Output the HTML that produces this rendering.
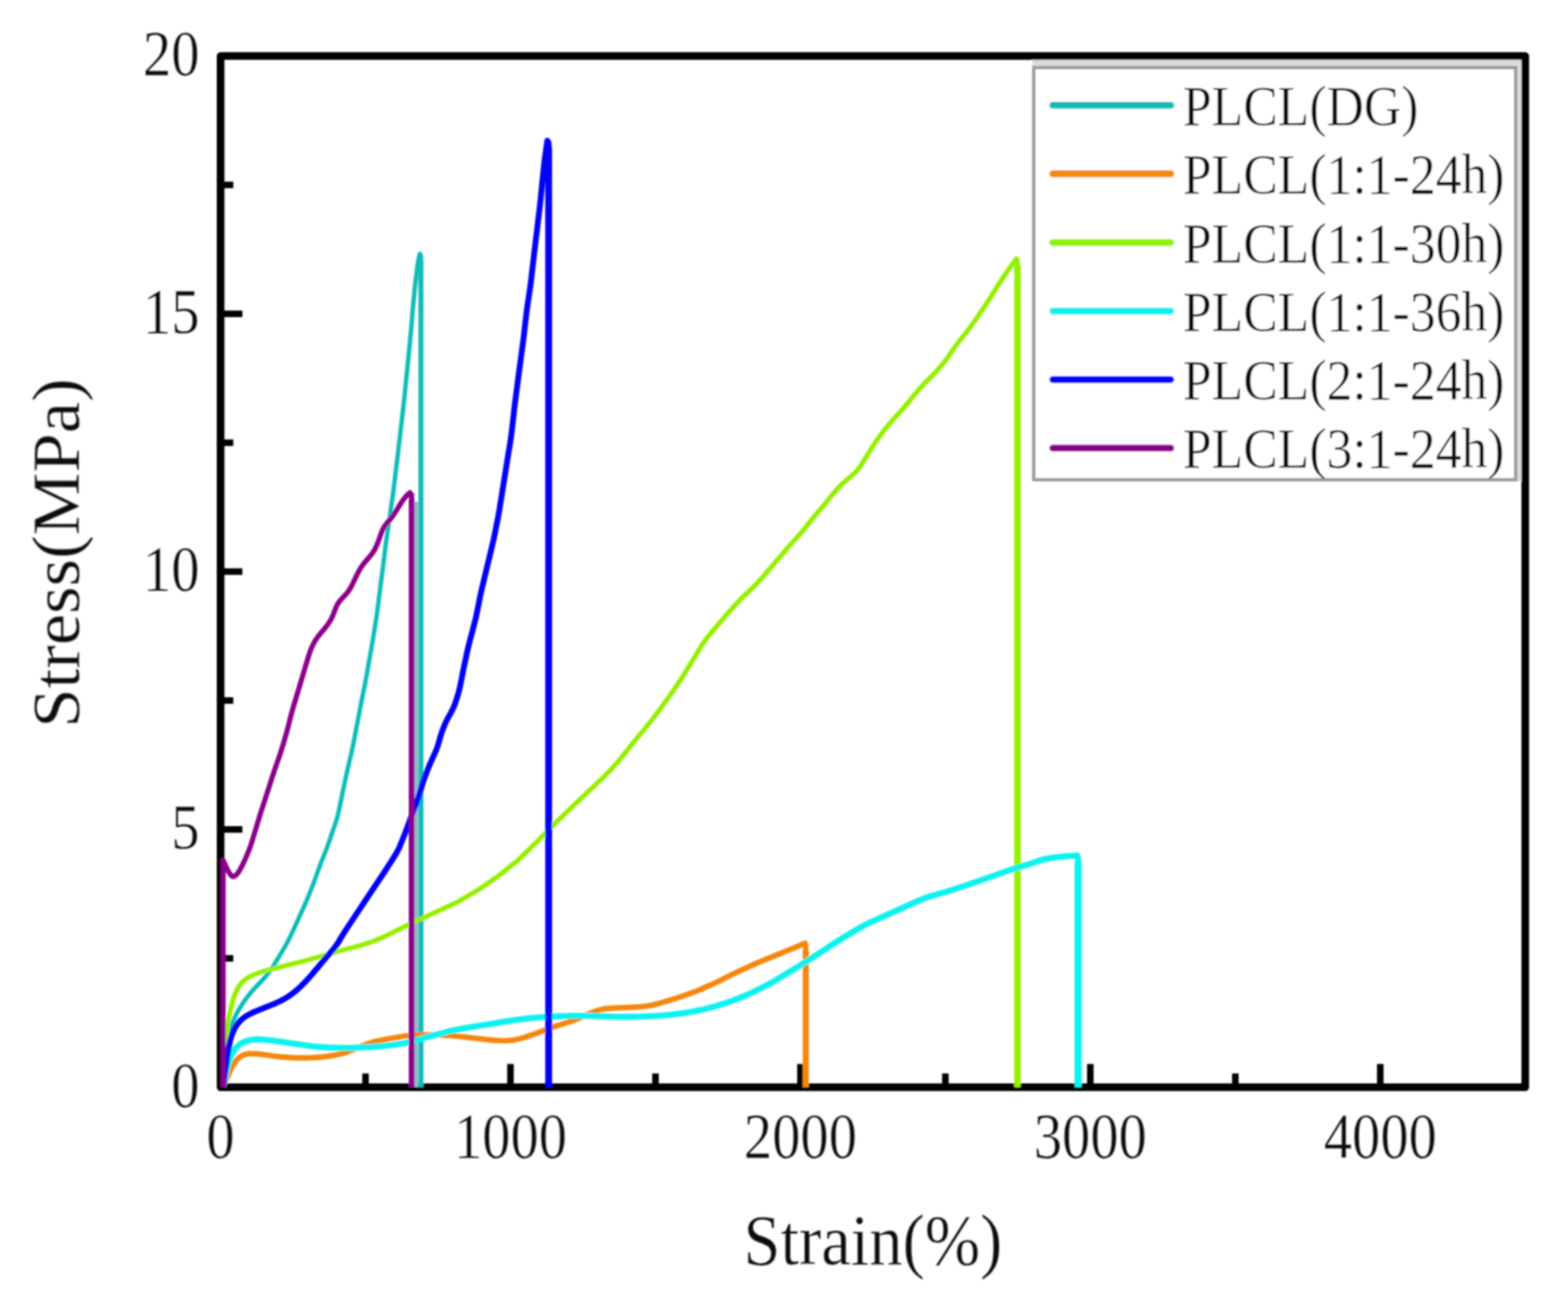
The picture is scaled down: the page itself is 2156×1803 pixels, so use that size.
<!DOCTYPE html>
<html lang="en"><head><meta charset="utf-8"><title>Stress-strain curves of PLCL</title>
<style>
html,body{margin:0;padding:0;background:#fff;}
body{width:2156px;height:1803px;overflow:hidden;}
svg{display:block;}
text{font-family:"Liberation Serif","Times New Roman",Times,serif;fill:#0a0a0a;stroke:#ffffff;stroke-width:0.3px;vector-effect:non-scaling-stroke;paint-order:fill stroke;}
.curve{fill:none;stroke-linejoin:round;stroke-linecap:butt;}
</style></head><body>
<svg xmlns="http://www.w3.org/2000/svg" width="2156" height="1803" viewBox="0 0 2156 1803">
<defs><filter id="soft" filterUnits="userSpaceOnUse" x="0" y="0" width="2156" height="1803"><feGaussianBlur stdDeviation="1.3"/></filter></defs>
<rect x="0" y="0" width="2156" height="1803" fill="#ffffff"/>
<g filter="url(#soft)">
<rect x="1419.5" y="77.0" width="677.6999999999998" height="584.8" fill="#dcdcdc"/>
<g stroke="#000" stroke-width="10.5" fill="none" stroke-linecap="butt">
<rect x="303.3" y="77.0" width="1793.8999999999999" height="1418.3" stroke-linejoin="round"/>
<line x1="502.6" y1="1495.3" x2="502.6" y2="1476.3" stroke-width="9"/>
<line x1="701.9" y1="1495.3" x2="701.9" y2="1463.3" stroke-width="9"/>
<line x1="901.3" y1="1495.3" x2="901.3" y2="1476.3" stroke-width="9"/>
<line x1="1100.6" y1="1495.3" x2="1100.6" y2="1463.3" stroke-width="9"/>
<line x1="1299.9" y1="1495.3" x2="1299.9" y2="1476.3" stroke-width="9"/>
<line x1="1499.2" y1="1495.3" x2="1499.2" y2="1463.3" stroke-width="9"/>
<line x1="1698.6" y1="1495.3" x2="1698.6" y2="1476.3" stroke-width="9"/>
<line x1="1897.9" y1="1495.3" x2="1897.9" y2="1463.3" stroke-width="9"/>
<line x1="303.3" y1="1318.0" x2="320.8" y2="1318.0" stroke-width="9"/>
<line x1="303.3" y1="1140.7" x2="333.3" y2="1140.7" stroke-width="9"/>
<line x1="303.3" y1="963.4" x2="320.8" y2="963.4" stroke-width="9"/>
<line x1="303.3" y1="786.1" x2="333.3" y2="786.1" stroke-width="9"/>
<line x1="303.3" y1="608.9" x2="320.8" y2="608.9" stroke-width="9"/>
<line x1="303.3" y1="431.6" x2="333.3" y2="431.6" stroke-width="9"/>
<line x1="303.3" y1="254.3" x2="320.8" y2="254.3" stroke-width="9"/>
</g>
<rect x="1421.5" y="93" width="662.5" height="566.8" fill="#ffffff" stroke="#9a9a9a" stroke-width="4.5"/>
<line x1="572.5" y1="690" x2="572.5" y2="1495.3" stroke="#8fb9cc" stroke-width="5.5"/>
<path class="curve" d="M307.0,1494.5 L307.4,1488.5 L307.8,1482.5 L308.2,1476.5 L308.6,1470.5 L309.0,1464.5 L309.4,1458.5 L310.0,1452.5 L310.7,1446.5 L311.5,1440.6 L312.5,1434.6 L313.5,1428.7 L314.8,1422.9 L316.4,1417.1 L318.2,1411.3 L320.2,1405.6 L322.5,1400.1 L325.1,1394.7 L328.0,1389.4 L331.1,1384.3 L334.3,1379.2 L337.7,1374.3 L341.3,1369.5 L345.1,1364.8 L349.1,1360.3 L353.2,1355.9 L357.4,1351.6 L361.5,1347.2 L365.4,1342.7 L369.2,1338.0 L372.8,1333.2 L376.1,1328.2 L379.2,1323.0 L382.3,1317.9 L385.3,1312.7 L388.5,1307.5 L391.6,1302.4 L394.5,1297.1 L397.3,1291.8 L399.9,1286.4 L402.5,1281.0 L405.0,1275.5 L407.5,1270.0 L410.0,1264.5 L412.4,1259.0 L414.9,1253.6 L417.4,1248.1 L419.8,1242.6 L422.2,1237.1 L424.5,1231.5 L426.8,1225.9 L429.0,1220.3 L431.1,1214.7 L433.2,1209.1 L435.2,1203.4 L437.2,1197.7 L439.3,1192.1 L441.4,1186.4 L443.7,1180.9 L445.9,1175.3 L448.1,1169.7 L450.2,1164.0 L452.2,1158.4 L454.2,1152.7 L456.1,1147.0 L458.1,1141.3 L460.0,1135.6 L462.0,1129.9 L463.7,1124.2 L465.2,1118.4 L466.5,1112.5 L467.7,1106.6 L468.9,1100.7 L470.1,1094.8 L471.3,1088.9 L472.6,1083.0 L473.8,1077.1 L475.0,1071.2 L476.3,1065.4 L477.6,1059.5 L479.0,1053.6 L480.3,1047.8 L481.7,1041.9 L483.1,1036.0 L484.4,1030.2 L485.6,1024.3 L486.7,1018.4 L487.9,1012.5 L489.0,1006.6 L490.1,1000.6 L491.3,994.7 L492.4,988.8 L493.5,982.9 L494.7,977.0 L495.8,971.1 L496.9,965.2 L498.1,959.3 L499.3,953.4 L500.5,947.5 L501.7,941.6 L502.8,935.7 L503.9,929.8 L505.0,923.8 L506.0,917.9 L507.0,912.0 L508.1,906.1 L509.1,900.1 L510.2,894.2 L511.2,888.3 L512.2,882.4 L513.2,876.4 L514.2,870.5 L515.2,864.5 L516.1,858.6 L517.0,852.7 L517.9,846.7 L518.7,840.7 L519.5,834.8 L520.3,828.8 L521.0,822.8 L521.8,816.9 L522.6,810.9 L523.3,804.9 L524.1,799.0 L524.9,793.0 L525.6,787.0 L526.4,781.1 L527.2,775.1 L527.9,769.1 L528.7,763.2 L529.4,757.2 L530.2,751.2 L530.9,745.3 L531.7,739.3 L532.5,733.3 L533.4,727.4 L534.3,721.4 L535.2,715.5 L536.1,709.5 L536.9,703.6 L537.8,697.6 L538.6,691.7 L539.5,685.7 L540.3,679.7 L541.1,673.8 L541.8,667.8 L542.6,661.8 L543.3,655.9 L544.0,649.9 L544.7,643.9 L545.4,637.9 L546.2,632.0 L546.9,626.0 L547.6,620.0 L548.3,614.0 L549.0,608.1 L549.7,602.1 L550.4,596.1 L551.1,590.1 L551.8,584.2 L552.5,578.2 L553.2,572.2 L553.9,566.2 L554.5,560.2 L555.2,554.3 L555.8,548.3 L556.5,542.3 L557.1,536.3 L557.7,530.3 L558.3,524.3 L558.9,518.4 L559.5,512.4 L560.1,506.4 L560.7,500.4 L561.3,494.4 L561.9,488.4 L562.5,482.4 L563.1,476.4 L563.7,470.5 L564.2,464.5 L564.8,458.5 L565.3,452.5 L565.8,446.5 L566.3,440.5 L566.8,434.5 L567.3,428.5 L567.8,422.5 L568.4,416.5 L569.0,410.5 L569.6,404.5 L570.1,398.5 L570.7,392.6 L571.4,386.6 L572.1,380.6 L572.9,374.6 L573.6,368.7 L574.5,362.7 L575.5,356.8 L576.8,350.9 L577.3,349.0 L578.8,352.0 L578.8,1495.3" stroke="#08bcb8" stroke-width="6.0"/>
<line x1="578.8" y1="358.0" x2="578.8" y2="1495.3" stroke="#08bcb8" stroke-width="6.8"/>
<path class="curve" d="M307.0,1494.5 L309.3,1488.9 L311.6,1483.4 L314.1,1477.9 L316.6,1472.4 L319.3,1467.0 L322.2,1461.9 L325.8,1457.1 L330.1,1453.3 L335.3,1450.7 L341.0,1449.4 L346.9,1449.0 L352.9,1449.3 L358.9,1449.9 L364.8,1450.7 L370.8,1451.5 L376.7,1452.4 L382.7,1453.1 L388.7,1453.6 L394.7,1454.1 L400.7,1454.5 L406.7,1454.8 L412.7,1454.9 L418.7,1454.9 L424.7,1454.8 L430.7,1454.5 L436.7,1454.1 L442.7,1453.6 L448.7,1453.0 L454.7,1452.1 L460.6,1451.0 L466.5,1449.8 L472.3,1448.3 L478.0,1446.4 L483.6,1444.3 L489.2,1442.0 L494.7,1439.8 L500.3,1437.6 L505.9,1435.4 L511.6,1433.5 L517.4,1431.9 L523.3,1430.7 L529.2,1429.7 L535.1,1428.6 L541.0,1427.5 L547.0,1426.5 L552.9,1425.5 L558.9,1424.6 L564.8,1423.9 L570.8,1423.5 L576.8,1423.3 L582.8,1423.3 L588.9,1423.2 L594.9,1423.1 L600.9,1423.2 L606.9,1423.5 L612.9,1423.9 L618.9,1424.3 L624.9,1424.7 L630.9,1425.2 L636.9,1425.9 L642.8,1426.6 L648.8,1427.4 L654.8,1428.1 L660.8,1428.8 L666.7,1429.4 L672.7,1430.0 L678.7,1430.6 L684.7,1431.0 L690.7,1431.3 L696.7,1431.2 L702.7,1430.8 L708.6,1429.9 L714.5,1428.6 L720.3,1427.0 L726.0,1425.1 L731.7,1423.2 L737.3,1421.1 L742.9,1419.0 L748.5,1416.7 L754.1,1414.6 L759.8,1412.7 L765.6,1410.8 L771.3,1409.0 L777.0,1407.2 L782.7,1405.3 L788.4,1403.3 L794.0,1401.2 L799.6,1398.9 L805.1,1396.4 L810.5,1393.9 L816.1,1391.6 L821.8,1389.7 L827.5,1388.1 L833.4,1387.1 L839.4,1386.6 L845.4,1386.3 L851.4,1386.0 L857.4,1385.7 L863.4,1385.5 L869.4,1385.2 L875.4,1384.9 L881.4,1384.5 L887.4,1383.9 L893.3,1382.9 L899.2,1381.7 L905.0,1380.2 L910.8,1378.6 L916.6,1376.9 L922.4,1375.2 L928.1,1373.4 L933.8,1371.5 L939.5,1369.6 L945.2,1367.6 L950.9,1365.6 L956.5,1363.5 L962.1,1361.2 L967.6,1358.8 L973.1,1356.3 L978.6,1353.9 L984.0,1351.3 L989.5,1348.8 L994.9,1346.1 L1000.3,1343.4 L1005.6,1340.7 L1011.0,1338.1 L1016.4,1335.5 L1021.9,1332.9 L1027.4,1330.5 L1032.9,1328.0 L1038.4,1325.6 L1043.9,1323.2 L1049.5,1320.8 L1055.0,1318.6 L1060.6,1316.3 L1066.2,1314.1 L1071.8,1311.9 L1077.4,1309.6 L1082.9,1307.3 L1088.5,1305.0 L1094.0,1302.7 L1099.6,1300.3 L1105.1,1298.1 L1107.0,1297.3 L1107.9,1300.3 L1107.9,1495.3" stroke="#f5870f" stroke-width="7.6"/>
<line x1="1107.9" y1="1306.3" x2="1107.9" y2="1495.3" stroke="#f5870f" stroke-width="8.4"/>
<path class="curve" d="M307.0,1494.5 L307.4,1488.5 L307.8,1482.5 L308.3,1476.5 L308.7,1470.5 L309.1,1464.5 L309.5,1458.5 L310.0,1452.5 L310.4,1446.5 L310.8,1440.5 L311.2,1434.5 L311.6,1428.5 L312.0,1422.5 L312.4,1416.5 L313.0,1410.5 L313.8,1404.6 L314.9,1398.7 L316.1,1392.8 L317.5,1386.9 L318.9,1381.1 L320.4,1375.3 L322.2,1369.6 L324.5,1364.0 L327.1,1358.7 L330.4,1353.8 L334.4,1349.5 L339.0,1345.8 L344.1,1342.7 L349.5,1340.3 L355.1,1338.1 L360.8,1336.2 L366.6,1334.6 L372.4,1333.1 L378.3,1331.7 L384.1,1330.2 L389.9,1328.7 L395.8,1327.3 L401.6,1325.8 L407.4,1324.3 L413.3,1322.9 L419.1,1321.4 L424.9,1319.9 L430.7,1318.3 L436.5,1316.6 L442.3,1314.9 L448.0,1313.2 L453.8,1311.5 L459.6,1309.8 L465.4,1308.2 L471.1,1306.6 L477.0,1305.1 L482.8,1303.6 L488.6,1302.2 L494.4,1300.6 L500.2,1298.9 L505.9,1297.0 L511.6,1295.0 L517.2,1292.9 L522.8,1290.6 L528.2,1288.2 L533.7,1285.6 L539.1,1282.9 L544.4,1280.2 L549.8,1277.5 L555.2,1274.8 L560.6,1272.2 L566.0,1269.6 L571.5,1267.1 L577.0,1264.6 L582.4,1262.1 L587.9,1259.6 L593.4,1257.1 L598.8,1254.6 L604.3,1252.0 L609.7,1249.5 L615.2,1247.0 L620.7,1244.5 L626.1,1241.9 L631.4,1239.1 L636.6,1236.1 L641.7,1233.0 L646.9,1230.0 L652.1,1227.0 L657.3,1223.9 L662.3,1220.6 L667.3,1217.2 L672.2,1213.8 L677.2,1210.4 L682.1,1206.9 L686.9,1203.3 L691.7,1199.6 L696.4,1195.9 L701.0,1192.1 L705.7,1188.3 L710.4,1184.5 L714.9,1180.5 L719.3,1176.4 L723.5,1172.2 L727.8,1168.0 L732.1,1163.7 L736.3,1159.5 L740.6,1155.3 L744.8,1151.0 L749.1,1146.7 L753.3,1142.4 L757.5,1138.2 L761.8,1133.9 L766.0,1129.7 L770.3,1125.4 L774.6,1121.3 L779.0,1117.1 L783.3,1113.0 L787.7,1108.8 L792.0,1104.7 L796.4,1100.5 L800.8,1096.4 L805.1,1092.2 L809.5,1088.1 L813.9,1084.0 L818.2,1079.8 L822.6,1075.7 L826.9,1071.5 L831.2,1067.3 L835.4,1063.0 L839.6,1058.7 L843.7,1054.3 L847.8,1049.9 L851.7,1045.3 L855.4,1040.6 L859.2,1035.9 L862.9,1031.2 L866.6,1026.5 L870.4,1021.8 L874.2,1017.1 L878.0,1012.5 L881.9,1007.9 L885.7,1003.2 L889.5,998.6 L893.3,993.9 L897.0,989.2 L900.7,984.4 L904.3,979.6 L907.9,974.8 L911.5,969.9 L915.0,965.1 L918.5,960.2 L922.0,955.3 L925.4,950.4 L928.8,945.4 L932.2,940.4 L935.5,935.4 L938.7,930.3 L941.9,925.2 L945.1,920.1 L948.2,915.0 L951.4,909.9 L954.5,904.7 L957.6,899.6 L960.6,894.4 L963.7,889.2 L967.0,884.2 L970.5,879.3 L974.2,874.6 L978.1,870.0 L982.0,865.4 L985.8,860.8 L989.7,856.3 L993.6,851.7 L997.5,847.1 L1001.5,842.5 L1005.5,838.1 L1009.6,833.7 L1013.7,829.3 L1017.8,824.9 L1022.0,820.6 L1026.3,816.4 L1030.7,812.3 L1035.0,808.1 L1039.3,803.9 L1043.4,799.5 L1047.5,795.1 L1051.4,790.6 L1055.3,786.0 L1059.2,781.4 L1063.1,776.8 L1067.0,772.2 L1070.9,767.6 L1074.8,763.1 L1078.7,758.5 L1082.6,753.9 L1086.6,749.4 L1090.6,744.9 L1094.6,740.4 L1098.6,736.0 L1102.6,731.4 L1106.4,726.8 L1110.2,722.1 L1113.9,717.4 L1117.7,712.7 L1121.5,708.1 L1125.4,703.5 L1129.3,698.9 L1133.2,694.3 L1137.0,689.7 L1140.8,685.0 L1144.6,680.3 L1148.4,675.7 L1152.4,671.2 L1156.5,666.9 L1160.9,662.8 L1165.4,658.9 L1170.1,655.0 L1174.5,651.0 L1178.7,646.7 L1182.4,642.0 L1185.7,637.0 L1188.9,631.9 L1192.0,626.8 L1195.1,621.7 L1198.3,616.5 L1201.5,611.5 L1204.9,606.5 L1208.4,601.6 L1211.9,596.7 L1215.5,592.0 L1219.3,587.3 L1223.2,582.7 L1227.2,578.2 L1231.1,573.7 L1235.1,569.2 L1239.2,564.7 L1243.1,560.2 L1247.0,555.6 L1250.9,551.0 L1254.7,546.3 L1258.5,541.7 L1262.4,537.1 L1266.3,532.6 L1270.4,528.2 L1274.7,523.9 L1278.9,519.6 L1283.1,515.3 L1287.2,511.0 L1291.2,506.4 L1295.1,501.8 L1298.9,497.2 L1302.5,492.4 L1305.9,487.5 L1309.3,482.5 L1312.7,477.5 L1316.2,472.7 L1319.9,467.9 L1323.7,463.3 L1327.5,458.6 L1331.2,453.9 L1334.7,449.0 L1338.3,444.1 L1341.7,439.2 L1345.2,434.3 L1348.5,429.3 L1351.9,424.3 L1355.2,419.3 L1358.5,414.3 L1361.8,409.2 L1364.9,404.1 L1368.1,399.0 L1371.3,393.9 L1374.6,388.9 L1377.9,383.9 L1381.2,378.9 L1384.6,373.9 L1388.0,368.9 L1391.5,364.1 L1395.1,359.2 L1397.5,356.0 L1399.0,359.0 L1399.0,1495.3" stroke="#94f000" stroke-width="6.6"/>
<line x1="1399.0" y1="365.0" x2="1399.0" y2="1495.3" stroke="#94f000" stroke-width="9.0"/>
<path class="curve" d="M307.0,1494.5 L308.2,1488.6 L309.4,1482.7 L310.7,1476.9 L312.1,1471.0 L313.5,1465.2 L315.1,1459.4 L317.1,1453.7 L319.6,1448.3 L322.7,1443.3 L326.6,1438.9 L331.2,1435.3 L336.4,1432.6 L342.1,1430.9 L347.9,1429.9 L353.9,1429.5 L359.9,1429.7 L365.9,1430.1 L371.8,1430.7 L377.8,1431.5 L383.7,1432.3 L389.7,1433.2 L395.6,1434.1 L401.6,1435.0 L407.5,1435.9 L413.5,1436.7 L419.4,1437.5 L425.4,1438.3 L431.3,1439.1 L437.3,1439.7 L443.3,1440.2 L449.3,1440.5 L455.3,1440.8 L461.3,1441.0 L467.3,1441.1 L473.3,1441.1 L479.3,1441.1 L485.3,1441.0 L491.4,1440.7 L497.4,1440.5 L503.4,1440.2 L509.4,1439.8 L515.4,1439.5 L521.4,1439.0 L527.3,1438.6 L533.3,1437.9 L539.3,1437.1 L545.2,1436.3 L551.2,1435.4 L557.1,1434.3 L562.9,1433.0 L568.7,1431.5 L574.5,1429.9 L580.3,1428.3 L586.1,1426.7 L591.9,1425.1 L597.7,1423.5 L603.5,1421.9 L609.3,1420.4 L615.1,1418.9 L621.0,1417.6 L626.9,1416.4 L632.8,1415.2 L638.7,1414.0 L644.6,1413.0 L650.5,1412.0 L656.5,1411.1 L662.4,1410.2 L668.3,1409.3 L674.3,1408.3 L680.2,1407.3 L686.1,1406.3 L692.1,1405.2 L698.0,1404.3 L703.9,1403.3 L709.9,1402.5 L715.8,1401.8 L721.8,1401.0 L727.8,1400.4 L733.8,1399.8 L739.7,1399.3 L745.7,1398.8 L751.7,1398.4 L757.7,1398.1 L763.7,1397.8 L769.7,1397.6 L775.7,1397.4 L781.8,1397.3 L787.8,1397.2 L793.8,1397.1 L799.8,1397.1 L805.8,1397.1 L811.8,1397.1 L817.8,1397.3 L823.8,1397.5 L829.8,1397.7 L835.8,1398.0 L841.8,1398.1 L847.8,1398.3 L853.9,1398.4 L859.9,1398.5 L865.9,1398.4 L871.9,1398.3 L877.9,1398.1 L883.9,1397.9 L889.9,1397.7 L895.9,1397.4 L901.9,1397.1 L907.9,1396.8 L913.9,1396.4 L919.9,1395.8 L925.9,1395.1 L931.8,1394.4 L937.8,1393.7 L943.7,1392.8 L949.6,1391.8 L955.5,1390.6 L961.4,1389.4 L967.3,1388.2 L973.2,1386.8 L979.0,1385.3 L984.7,1383.6 L990.5,1381.8 L996.2,1380.1 L1001.9,1378.2 L1007.6,1376.1 L1013.1,1373.9 L1018.7,1371.6 L1024.3,1369.4 L1029.8,1367.0 L1035.2,1364.4 L1040.6,1361.8 L1046.0,1359.1 L1051.4,1356.4 L1056.7,1353.7 L1062.0,1350.8 L1067.2,1347.7 L1072.3,1344.6 L1077.5,1341.5 L1082.6,1338.4 L1087.7,1335.3 L1092.9,1332.1 L1098.0,1329.0 L1103.1,1325.8 L1108.2,1322.6 L1113.3,1319.4 L1118.3,1316.2 L1123.4,1312.9 L1128.4,1309.6 L1133.4,1306.4 L1138.5,1303.1 L1143.5,1299.8 L1148.6,1296.5 L1153.6,1293.3 L1158.7,1290.0 L1163.8,1286.9 L1169.0,1283.8 L1174.1,1280.7 L1179.3,1277.6 L1184.5,1274.6 L1189.8,1271.8 L1195.2,1269.3 L1200.7,1266.8 L1206.2,1264.3 L1211.6,1261.8 L1217.1,1259.4 L1222.6,1256.9 L1228.1,1254.4 L1233.6,1251.9 L1239.0,1249.5 L1244.5,1247.0 L1250.0,1244.5 L1255.5,1242.1 L1261.0,1239.6 L1266.5,1237.2 L1272.0,1235.0 L1277.7,1233.1 L1283.5,1231.4 L1289.3,1229.8 L1295.1,1228.1 L1300.8,1226.5 L1306.6,1224.7 L1312.3,1222.9 L1318.0,1221.0 L1323.7,1219.1 L1329.4,1217.2 L1335.1,1215.3 L1340.8,1213.3 L1346.5,1211.3 L1352.1,1209.4 L1357.8,1207.4 L1363.5,1205.4 L1369.2,1203.4 L1374.8,1201.4 L1380.5,1199.4 L1386.2,1197.4 L1391.9,1195.5 L1397.6,1193.6 L1403.3,1191.8 L1409.1,1190.2 L1414.9,1188.5 L1420.6,1186.6 L1426.2,1184.7 L1431.9,1182.8 L1437.7,1181.3 L1443.6,1180.2 L1449.6,1179.3 L1455.5,1178.6 L1461.5,1178.0 L1467.5,1177.5 L1473.5,1177.1 L1479.5,1176.7 L1481.5,1176.6 L1482.4,1179.6 L1482.4,1495.3" stroke="#08f2f0" stroke-width="8.3"/>
<line x1="1482.4" y1="1185.6" x2="1482.4" y2="1495.3" stroke="#08f2f0" stroke-width="9.8"/>
<path class="curve" d="M307.0,1494.5 L307.7,1488.5 L308.4,1482.6 L309.2,1476.6 L309.9,1470.6 L310.7,1464.7 L311.5,1458.7 L312.4,1452.7 L313.3,1446.8 L314.4,1440.9 L315.6,1435.0 L316.9,1429.2 L318.7,1423.4 L320.9,1417.9 L323.6,1412.6 L326.9,1407.7 L330.9,1403.3 L335.4,1399.5 L340.4,1396.2 L345.7,1393.5 L351.2,1391.0 L356.8,1388.7 L362.3,1386.5 L367.9,1384.2 L373.5,1382.0 L379.1,1379.7 L384.5,1377.2 L389.9,1374.4 L395.0,1371.4 L400.0,1368.0 L404.7,1364.4 L409.3,1360.5 L413.8,1356.4 L418.0,1352.2 L422.1,1347.8 L426.1,1343.3 L430.0,1338.8 L433.9,1334.2 L437.8,1329.6 L441.6,1324.9 L445.5,1320.3 L449.4,1315.7 L453.4,1311.2 L457.3,1306.7 L461.0,1302.0 L464.4,1297.1 L467.5,1291.9 L470.6,1286.8 L473.8,1281.7 L477.1,1276.6 L480.4,1271.6 L483.7,1266.6 L487.0,1261.6 L490.4,1256.6 L493.7,1251.6 L497.0,1246.6 L500.4,1241.5 L503.7,1236.5 L507.0,1231.5 L510.4,1226.5 L513.7,1221.5 L517.1,1216.5 L520.4,1211.5 L523.8,1206.5 L527.1,1201.5 L530.4,1196.5 L533.6,1191.4 L536.9,1186.4 L540.1,1181.3 L543.3,1176.2 L546.3,1171.0 L549.0,1165.7 L551.3,1160.1 L553.6,1154.5 L555.8,1149.0 L558.0,1143.3 L560.1,1137.7 L562.1,1132.1 L564.2,1126.4 L566.2,1120.8 L568.3,1115.1 L570.5,1109.5 L572.6,1103.9 L574.7,1098.2 L576.5,1092.5 L578.3,1086.8 L580.0,1081.0 L581.8,1075.3 L583.8,1069.6 L585.9,1064.0 L588.1,1058.4 L590.4,1052.8 L592.7,1047.3 L595.2,1041.8 L597.7,1036.3 L600.1,1030.8 L602.1,1025.2 L603.8,1019.4 L605.4,1013.6 L607.2,1007.9 L609.2,1002.3 L611.5,996.7 L614.0,991.2 L616.8,985.9 L619.7,980.7 L622.5,975.4 L624.9,969.9 L626.9,964.3 L628.7,958.5 L630.4,952.8 L631.9,946.9 L633.2,941.1 L634.4,935.2 L635.5,929.3 L636.7,923.4 L637.9,917.5 L639.1,911.6 L640.4,905.7 L641.6,899.8 L642.9,893.9 L644.3,888.1 L645.8,882.3 L647.3,876.5 L648.9,870.6 L650.4,864.8 L651.9,859.0 L653.4,853.2 L654.8,847.3 L656.0,841.4 L657.2,835.5 L658.4,829.6 L659.5,823.7 L660.7,817.8 L662.0,812.0 L663.4,806.1 L664.8,800.3 L666.2,794.4 L667.6,788.6 L669.0,782.7 L670.4,776.9 L671.8,771.0 L673.2,765.2 L674.6,759.3 L676.0,753.5 L677.4,747.6 L678.8,741.8 L680.0,735.9 L681.2,730.0 L682.3,724.1 L683.5,718.2 L684.7,712.3 L685.7,706.3 L686.8,700.4 L687.7,694.5 L688.7,688.5 L689.6,682.6 L690.6,676.7 L691.5,670.7 L692.5,664.8 L693.4,658.8 L694.4,652.9 L695.3,647.0 L696.3,641.0 L697.2,635.1 L698.2,629.1 L699.1,623.2 L700.1,617.3 L701.1,611.3 L702.0,605.4 L702.9,599.4 L703.6,593.5 L704.3,587.5 L705.0,581.5 L705.7,575.6 L706.4,569.6 L707.0,563.6 L707.7,557.6 L708.4,551.7 L709.2,545.7 L710.0,539.7 L710.8,533.8 L711.6,527.8 L712.3,521.8 L713.1,515.9 L713.9,509.9 L714.7,503.9 L715.5,498.0 L716.3,492.0 L717.1,486.1 L717.9,480.1 L718.7,474.1 L719.5,468.2 L720.2,462.2 L720.9,456.2 L721.6,450.3 L722.3,444.3 L723.0,438.3 L723.7,432.3 L724.4,426.4 L725.2,420.4 L726.1,414.4 L727.0,408.5 L727.9,402.5 L728.8,396.6 L729.6,390.6 L730.3,384.7 L731.0,378.7 L731.7,372.7 L732.4,366.7 L733.1,360.8 L733.8,354.8 L734.5,348.8 L735.2,342.9 L735.9,336.9 L736.6,330.9 L737.4,324.9 L738.1,319.0 L738.8,313.0 L739.5,307.0 L740.2,301.0 L740.9,295.1 L741.6,289.1 L742.3,283.1 L743.0,277.1 L743.6,271.2 L744.2,265.2 L744.8,259.2 L745.4,253.2 L746.0,247.2 L746.6,241.2 L747.2,235.3 L747.8,229.3 L748.5,223.3 L749.2,217.3 L750.0,211.4 L750.9,205.4 L751.7,199.5 L752.6,193.5 L754.4,196.5 L754.4,1495.3" stroke="#0000fd" stroke-width="8.0"/>
<line x1="754.4" y1="202.5" x2="754.4" y2="1495.3" stroke="#0000fd" stroke-width="9.4"/>
<path class="curve" d="M306.8,1495.3 L306.8,1183.0 L309.3,1188.5 L311.8,1194.0 L314.5,1199.2 L317.4,1203.7 L320.6,1205.7 L324.1,1204.0 L327.6,1199.9 L330.7,1194.8 L333.5,1189.5 L336.0,1184.1 L338.5,1178.6 L340.8,1173.0 L343.0,1167.4 L345.1,1161.8 L346.9,1156.0 L348.6,1150.3 L350.4,1144.5 L352.1,1138.7 L353.8,1133.0 L355.6,1127.2 L357.3,1121.4 L359.1,1115.7 L361.0,1110.0 L362.9,1104.3 L364.7,1098.5 L366.6,1092.8 L368.4,1087.1 L370.3,1081.3 L372.1,1075.6 L373.9,1069.9 L375.8,1064.1 L377.8,1058.4 L379.7,1052.7 L381.7,1047.1 L383.7,1041.4 L385.6,1035.7 L387.4,1029.9 L389.2,1024.2 L390.9,1018.4 L392.6,1012.6 L394.3,1006.8 L395.8,1001.0 L397.3,995.2 L398.7,989.3 L400.2,983.5 L401.8,977.7 L403.4,971.9 L405.2,966.1 L406.9,960.4 L408.6,954.6 L410.4,948.8 L412.1,943.1 L413.8,937.3 L415.6,931.5 L417.3,925.7 L419.0,920.0 L420.7,914.2 L422.5,908.4 L424.2,902.7 L426.0,897.0 L428.2,891.4 L430.7,885.9 L433.6,880.7 L437.0,875.8 L440.8,871.1 L444.7,866.5 L448.5,861.8 L452.0,857.0 L455.1,851.9 L457.7,846.5 L459.9,840.9 L462.0,835.3 L464.6,830.0 L468.1,825.3 L472.2,821.0 L476.3,816.7 L479.9,812.0 L482.9,806.8 L485.6,801.5 L488.2,796.1 L490.8,790.6 L493.5,785.3 L496.6,780.1 L500.1,775.3 L503.9,770.6 L507.8,766.1 L511.6,761.4 L514.9,756.5 L517.5,751.1 L519.7,745.5 L521.8,739.9 L523.8,734.2 L526.0,728.7 L528.9,723.6 L532.5,718.9 L536.4,714.4 L540.0,709.6 L543.4,704.6 L546.6,699.6 L549.8,694.4 L553.0,689.3 L556.5,684.6 L560.6,680.2 L563.5,677.5 L566.0,680.5 L566.0,1495.3" stroke="#8b008b" stroke-width="7.0"/>
<line x1="566.0" y1="686.5" x2="566.0" y2="1495.3" stroke="#8b008b" stroke-width="7.8"/>
<line x1="1447.5" y1="144.8" x2="1609.8" y2="144.8" stroke="#08bcb8" stroke-width="9.5" stroke-linecap="round"/>
<line x1="1447.5" y1="239.1" x2="1609.8" y2="239.1" stroke="#f5870f" stroke-width="9.5" stroke-linecap="round"/>
<line x1="1447.5" y1="333.4" x2="1609.8" y2="333.4" stroke="#94f000" stroke-width="9.5" stroke-linecap="round"/>
<line x1="1447.5" y1="427.7" x2="1609.8" y2="427.7" stroke="#08f2f0" stroke-width="9.5" stroke-linecap="round"/>
<line x1="1447.5" y1="522.0" x2="1609.8" y2="522.0" stroke="#0000fd" stroke-width="9.5" stroke-linecap="round"/>
<line x1="1447.5" y1="616.3" x2="1609.8" y2="616.3" stroke="#8b008b" stroke-width="9.5" stroke-linecap="round"/>
<text transform="translate(1626.5,171.9) scale(0.9,1)" font-size="79">PLCL(DG)</text>
<text transform="translate(1626.5,266.2) scale(0.9,1)" font-size="79">PLCL(1:1-24h)</text>
<text transform="translate(1626.5,360.5) scale(0.9,1)" font-size="79">PLCL(1:1-30h)</text>
<text transform="translate(1626.5,454.8) scale(0.9,1)" font-size="79">PLCL(1:1-36h)</text>
<text transform="translate(1626.5,549.1) scale(0.9,1)" font-size="79">PLCL(2:1-24h)</text>
<text transform="translate(1626.5,643.4) scale(0.9,1)" font-size="79">PLCL(3:1-24h)</text>
<text transform="translate(274.3,1521.6) scale(0.868,1)" font-size="89.6" text-anchor="end">0</text>
<text transform="translate(274.3,1167.0) scale(0.868,1)" font-size="89.6" text-anchor="end">5</text>
<text transform="translate(274.3,812.4) scale(0.868,1)" font-size="89.6" text-anchor="end">10</text>
<text transform="translate(274.3,457.9) scale(0.868,1)" font-size="89.6" text-anchor="end">15</text>
<text transform="translate(274.3,103.3) scale(0.868,1)" font-size="89.6" text-anchor="end">20</text>
<text transform="translate(303.3,1591.6) scale(0.868,1)" font-size="89.6" text-anchor="middle">0</text>
<text transform="translate(701.9,1591.6) scale(0.868,1)" font-size="89.6" text-anchor="middle">1000</text>
<text transform="translate(1100.6,1591.6) scale(0.868,1)" font-size="89.6" text-anchor="middle">2000</text>
<text transform="translate(1499.2,1591.6) scale(0.868,1)" font-size="89.6" text-anchor="middle">3000</text>
<text transform="translate(1897.9,1591.6) scale(0.868,1)" font-size="89.6" text-anchor="middle">4000</text>
<text transform="translate(1200.3,1738.7) scale(0.925,1)" font-size="99" text-anchor="middle">Strain(%)</text>
<text transform="translate(109,760.6) scale(0.948,1) rotate(-90)" font-size="97.2" text-anchor="middle">Stress(MPa)</text>
</g>
</svg>
</body></html>
